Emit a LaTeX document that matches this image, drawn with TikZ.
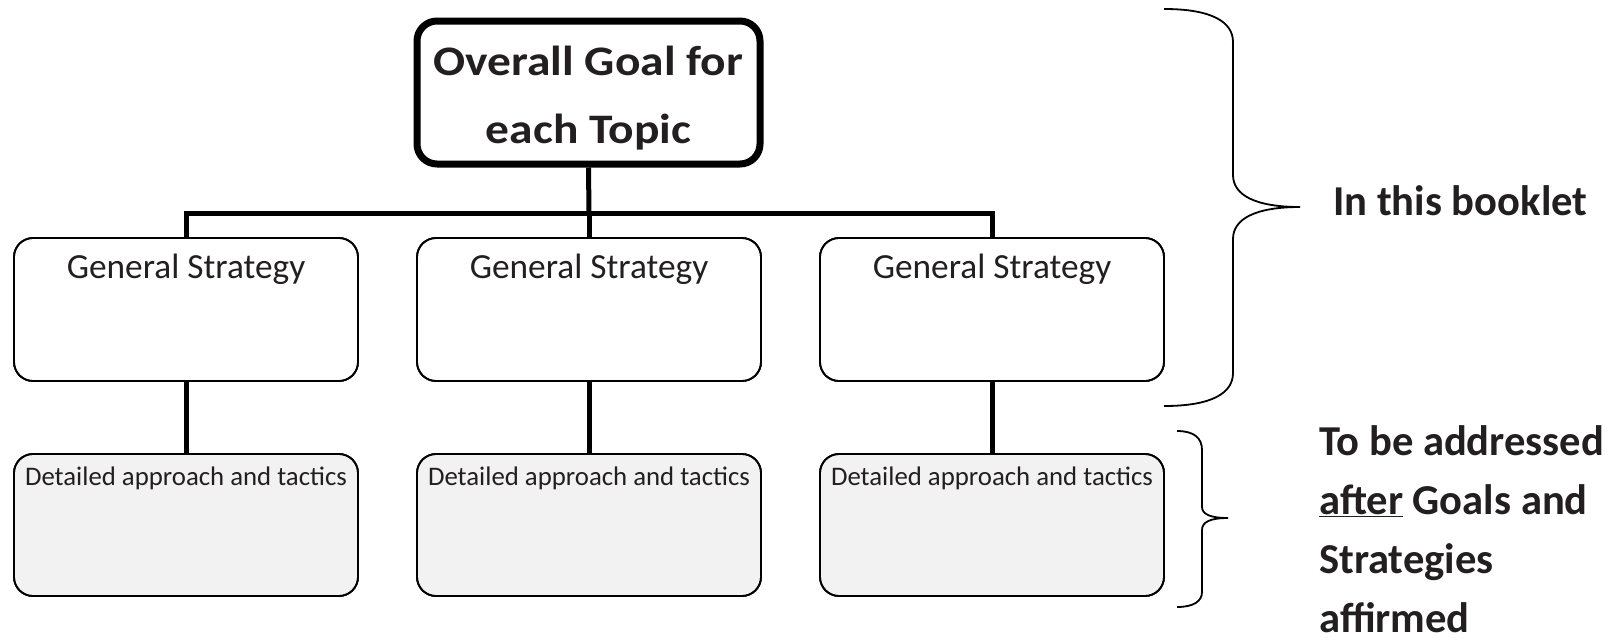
\documentclass[tikz,border=0pt]{standalone}
\usepackage{fontspec}
\setmainfont{Carlito}
\definecolor{ink}{RGB}{35,31,32}
\definecolor{tacfill}{RGB}{242,242,242}
\begin{document}
\begin{tikzpicture}[x=1pt,y=-1pt,
  goalbox/.style={draw=black,line width=7pt,rounded corners=20pt,minimum width=343pt,minimum height=143pt,inner sep=0pt},
  stratbox/.style={draw=black,line width=1.8pt,rounded corners=19pt,fill=white,minimum width=344pt,minimum height=143pt,inner sep=0pt},
  tacbox/.style={stratbox,fill=tacfill,minimum height=142pt},
  conn/.style={draw=black,line width=5pt},
  bigtxt/.style={text=ink,font=\fontsize{42}{50}\selectfont\bfseries,inner sep=0pt},
  notetxt/.style={text=ink,font=\fontsize{42.6}{50}\selectfont\bfseries,inner sep=0pt,anchor=base west},
  strattxt/.style={text=ink,font=\fontsize{35.3}{40}\selectfont,inner sep=0pt,anchor=base},
  tactxt/.style={text=ink,font=\fontsize{26.8}{32}\selectfont,inner sep=0pt,anchor=base},
  brace/.style={draw=black,line width=1.8pt}]
\useasboundingbox (0,0) rectangle (1617,640);

% top goal box (title set slightly widened)
\node[goalbox] (goal) at (588.5,92.5) {};
\node[bigtxt,anchor=base] (goalA) at (588.5,75) {\scalebox{1.13}[1]{Overall Goal for}};
\node[bigtxt,anchor=base] (goalB) at (588.5,143) {\scalebox{1.13}[1]{each Topic}};

% strategy row
\node[stratbox] (s1) at (186,309.5) {};
\node[stratbox] (s2) at (589,309.5) {};
\node[stratbox] (s3) at (992,309.5) {};
\node[strattxt] (s1t) at (186,278) {General Strategy};
\node[strattxt] (s2t) at (589,278) {General Strategy};
\node[strattxt] (s3t) at (992,278) {General Strategy};

% tactics row
\node[tacbox] (t1) at (186,525) {};
\node[tacbox] (t2) at (589,525) {};
\node[tacbox] (t3) at (992,525) {};
\node[tactxt] (t1t) at (186,485) {Detailed approach and tactics};
\node[tactxt] (t2t) at (589,485) {Detailed approach and tactics};
\node[tactxt] (t3t) at (992,485) {Detailed approach and tactics};

% tree connectors
\coordinate (bar) at (589,213);
\draw[conn] (goal.south) -- (bar);
\draw[conn] (s1.north) |- (bar) -| (s3.north);
\draw[conn] (bar) -- (s2.north);
\draw[conn] (s1.south) -- (t1.north);
\draw[conn] (s2.south) -- (t2.north);
\draw[conn] (s3.south) -- (t3.north);
% redraw box outlines over connector ends
\node[stratbox,fill=none] at (s1) {};
\node[stratbox,fill=none] at (s2) {};
\node[stratbox,fill=none] at (s3) {};
\node[tacbox,fill=none] at (t1) {};
\node[tacbox,fill=none] at (t2) {};
\node[tacbox,fill=none] at (t3) {};

% large brace
\draw[brace] (1164,9) .. controls (1212,9) and (1233,22) .. (1233,42)
  -- (1233,175) .. controls (1233,195) and (1255,207) .. (1300,207)
  .. controls (1255,207) and (1233,219) .. (1233,239)
  -- (1233,373) .. controls (1233,393) and (1212,406) .. (1164,406);

% small brace
\draw[brace] (1177,431) .. controls (1194,431) and (1202,438) .. (1202,450)
  -- (1202,507) .. controls (1202,514) and (1210,518) .. (1228,518)
  .. controls (1210,518) and (1202,522) .. (1202,530)
  -- (1202,592) .. controls (1202,601) and (1194,607) .. (1177,607);

% side notes
\node[notetxt] (noteA) at (1333,215) {In this booklet};
\node[notetxt] (noteB1) at (1319,455) {To be addressed};
\node[notetxt] (noteB2) at (1319,514) {\underline{after} Goals and};
\node[notetxt] (noteB3) at (1319,573) {Strategies};
\node[notetxt] (noteB4) at (1319,632) {affirmed};
\end{tikzpicture}
\end{document}
